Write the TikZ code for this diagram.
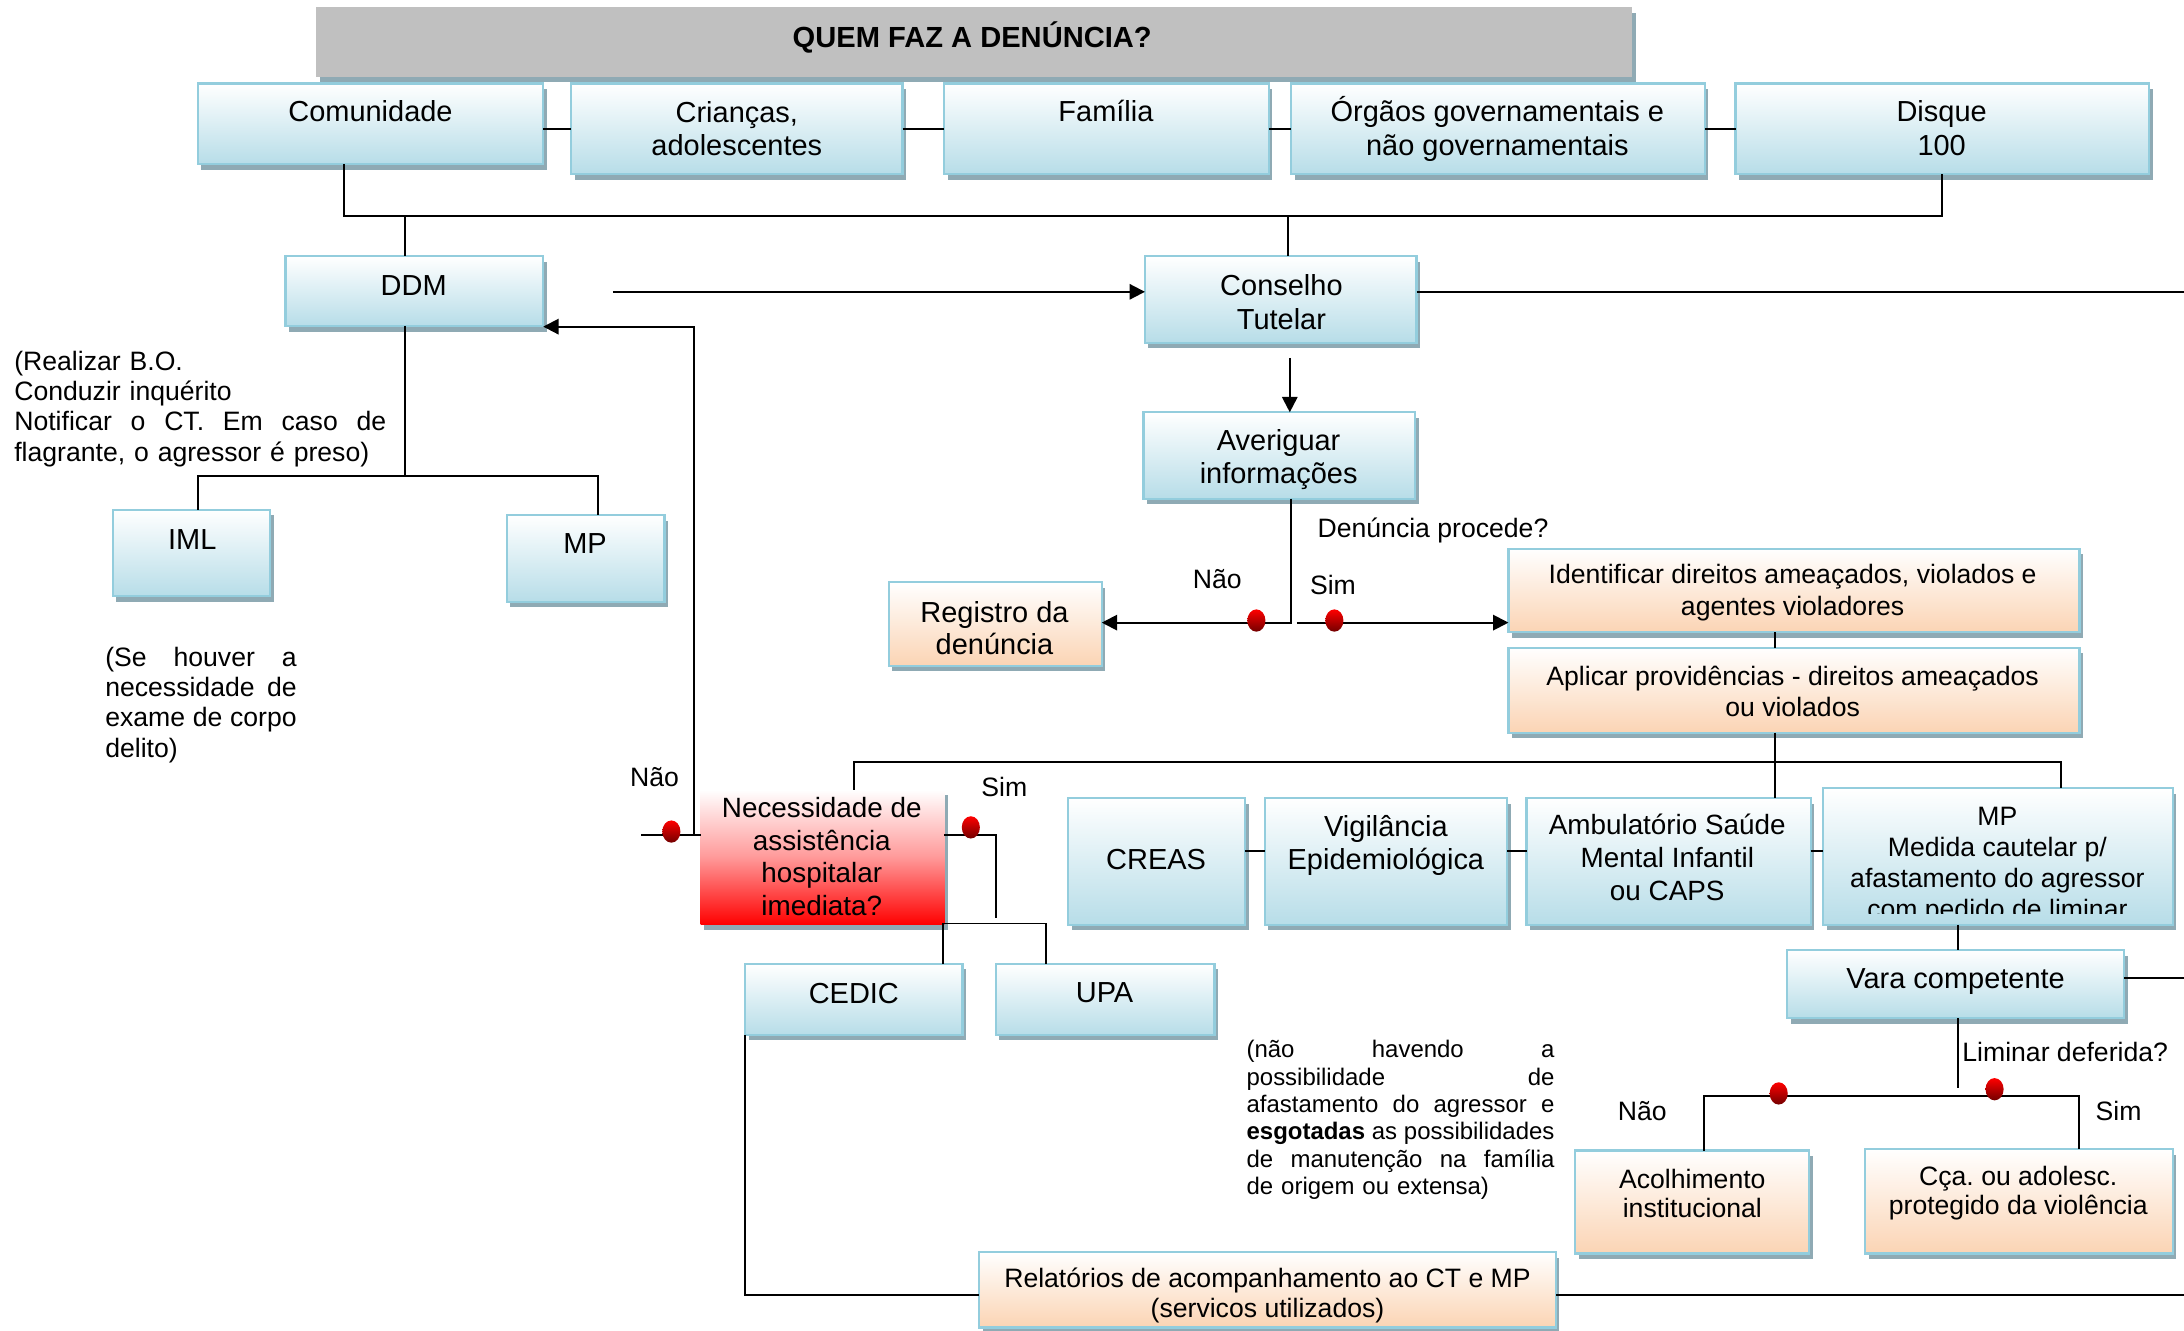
\documentclass[tikz,border=0pt]{standalone}
\usepackage{fontspec}
\setmainfont{Liberation Sans}
\frenchspacing
\usetikzlibrary{arrows.meta,shapes.geometric}
\definecolor{bordc}{HTML}{93CDDD}
\definecolor{blueb}{HTML}{B7DDE8}
\definecolor{peach}{HTML}{FBD4B4}
\definecolor{shadc}{HTML}{8FAAB4}
\definecolor{titlec}{HTML}{C0C0C0}
\tikzset{
  basebox/.style={inner sep=0pt, outer sep=0pt, line width=0.8pt, draw=bordc},
  bluebox/.style={basebox, top color=white, bottom color=blueb, middle color=blueb!50},
  peachbox/.style={basebox, top color=white, bottom color=peach, middle color=peach!50},
  redbox/.style={inner sep=0pt, outer sep=0pt, top color=white, bottom color=red, middle color=red!40},
  titlebox/.style={inner sep=0pt, outer sep=0pt, fill=titlec},
  conn/.style={line width=0.7pt, draw=black},
  arr/.style={conn, -{Triangle[length=5.5pt,width=5.5pt]}},
  reddot/.style={ellipse, inner sep=0pt, minimum width=6.5pt, minimum height=8pt, top color=red, bottom color=red!45!black},
  tTitle/.style={inner sep=0pt, font=\bfseries\fontsize{10.45}{12}\selectfont},
  tBig/.style={align=center, inner sep=0pt, font=\fontsize{10.4}{12}\selectfont},
  tMid/.style={align=center, inner sep=0pt, font=\fontsize{10}{11.7}\selectfont},
  tSm/.style={align=center, inner sep=0pt, font=\fontsize{9.55}{11.2}\selectfont},
  lbl/.style={inner sep=0pt, font=\fontsize{9.55}{11}\selectfont},
  note/.style={align=left, inner sep=0pt, font=\fontsize{9.55}{10.9}\selectfont},
  tiny/.style={align=left, inner sep=0pt, font=\fontsize{8.6}{9.8}\selectfont},
}
\newcommand\drawbox[6]{%
  \fill[shadc] ({#2+2.5},{#3+4}) rectangle ({#4+2.5},{#5+4});
  \node[#6, minimum width={(#4-#2)*0.5pt}, minimum height={(#5-#3)*0.5pt}] (#1) at ({(#2+#4)/2},{(#3+#5)/2}) {};
}
\newcommand\jline[2]{\makebox[#1][s]{\spaceskip=0pt\xspaceskip=0pt #2}}
\begin{document}
\begin{tikzpicture}[x=0.5pt,y=-0.5pt]
\useasboundingbox (0,0) rectangle (1568,955);
\fill[white] (0,0) rectangle (1568,955);

% ---------- boxes ----------
\drawbox{title}{227}{5}{1172}{55}{titlebox}
\drawbox{comu}{142}{60}{390}{118}{bluebox}
\drawbox{cria}{410}{60}{648}{125}{bluebox}
\drawbox{fam}{678}{60}{911}{125}{bluebox}
\drawbox{orgs}{927}{60}{1224}{125}{bluebox}
\drawbox{disq}{1246}{60}{1543}{125}{bluebox}
\drawbox{ddm}{205}{184}{390}{234}{bluebox}
\drawbox{cons}{822}{184}{1017}{246}{bluebox}
\drawbox{aver}{821}{296}{1016}{358}{bluebox}
\drawbox{iml}{81}{366}{194}{428}{bluebox}
\drawbox{mpa}{364}{370}{477}{432}{bluebox}
\drawbox{reg}{638}{418}{791}{478}{peachbox}
\drawbox{ident}{1083}{394}{1493}{454}{peachbox}
\drawbox{apl}{1083}{465}{1493}{526}{peachbox}
\drawbox{nec}{503}{567}{678}{664}{redbox}
\drawbox{creas}{767}{573}{894}{664}{bluebox}
\drawbox{vig}{908}{573}{1082}{664}{bluebox}
\drawbox{amb}{1096}{573}{1300}{664}{bluebox}
\drawbox{mpb}{1309}{566}{1560}{664}{bluebox}
\drawbox{cedic}{535}{692}{691}{743}{bluebox}
\drawbox{upa}{715}{692}{872}{743}{bluebox}
\drawbox{vara}{1283}{682}{1525}{731}{bluebox}
\drawbox{acol}{1131}{826}{1299}{900}{peachbox}
\drawbox{cca}{1339}{825}{1560}{900}{peachbox}
\drawbox{rel}{703}{899}{1117}{953}{peachbox}

% ---------- coordinates ----------
\coordinate (jA) at (247,155);
\coordinate (jB) at (1394,155);
\coordinate (jC) at (291,155);
\coordinate (jD) at (925,155);
\coordinate (ddmout) at (440,209.5);
\coordinate (consout) at (1568,209.5);
\coordinate (cdown) at (926,257);
\coordinate (dA) at (927,447);
\coordinate (dB) at (931,447);
\coordinate (vI) at (1274,547);
\coordinate (hL) at (613,547);
\coordinate (hR) at (1480,547);
\coordinate (rowy) at (0,611);
\coordinate (nA) at (460,599.5);
\coordinate (nB) at (498.5,599.5);
\coordinate (ddmin) at (0,234.5);
\coordinate (sA) at (715,599.5);
\coordinate (sB) at (715,659);
\coordinate (cA) at (677,663);
\coordinate (cB) at (751,663);
\coordinate (rA) at (535,929.5);
\coordinate (rB) at (1568,929.5);
\coordinate (mA) at (1406,0);
\coordinate (vo) at (1568,702);
\coordinate (lv) at (1406,781);
\coordinate (bA) at (1223.5,787);
\coordinate (bB) at (1492.5,787);
\coordinate (kA) at (291,342);
\coordinate (kB) at (142,342);
\coordinate (kC) at (429.5,342);

% ---------- connectors ----------
\draw[conn] (comu.east |- cria.west) -- (cria.west);
\draw[conn] (cria.east) -- (fam.west);
\draw[conn] (fam.east) -- (orgs.west);
\draw[conn] (orgs.east) -- (disq.west);
\draw[conn] (jA |- comu.south) -- (jA) -- (jB) -- (jB |- disq.south);
\draw[conn] (jC) -- (jC |- ddm.north);
\draw[conn] (jD) -- (jD |- cons.north);
\draw[arr] (ddmout) -- (ddmout -| cons.west);
\draw[conn] (consout -| cons.east) -- (consout);
\draw[arr] (cdown) -- (cdown |- aver.north);
\draw[arr] (dA |- aver.south) -- (dA) -- (dA -| reg.east);
\draw[arr] (dB) -- (dB -| ident.west);
\draw[conn] (vI |- ident.south) -- (vI |- apl.north);
\draw[conn] (vI |- apl.south) -- (vI |- amb.north);
\draw[conn] (hL |- nec.north) -- (hL) -- (hR) -- (hR |- mpb.north);
\draw[conn] (creas.east |- rowy) -- (vig.west |- rowy);
\draw[conn] (vig.east |- rowy) -- (amb.west |- rowy);
\draw[conn] (amb.east |- rowy) -- (mpb.west |- rowy);
\draw[conn] (nec.west |- nA) -- (nA);
\draw[arr] (nB) |- (ddm.east |- ddmin);
\draw[conn] (nec.east |- sA) -- (sA) -- (sB);
\draw[conn] (cA |- cedic.north) -- (cA) -- (cB) -- (cB |- upa.north);
\draw[conn] (rA |- cedic.south) -- (rA) -- (rA -| rel.west);
\draw[conn] (rel.east |- rB) -- (rB);
\draw[conn] (mA |- mpb.south) -- (mA |- vara.north);
\draw[conn] (vara.east |- vo) -- (vo);
\draw[conn] (lv |- vara.south) -- (lv);
\draw[conn] (bA |- acol.north) -- (bA) -- (bB) -- (bB |- cca.north);
\draw[conn] (kA |- ddm.south) -- (kA);
\draw[conn] (kB |- iml.north) -- (kB) -- (kC) -- (kC |- mpa.north);

% ---------- decision dots ----------
\node[reddot] (dot1) at (482,597) {};
\node[reddot] (dot2) at (697,594) {};
\node[reddot] (dot3) at (902,445.5) {};
\node[reddot] (dot4) at (958,445.5) {};
\node[reddot] (dot5) at (1277,785) {};
\node[reddot] (dot6) at (1432,782) {};

% ---------- box texts ----------
\node[tTitle] (t-title) at (698,27) {QUEM FAZ A DENÚNCIA?};
\node[tBig] (t-comu) at (266,80) {Comunidade};
\node[tBig] (t-cria) at (529,92.5) {Crianças,\\adolescentes};
\node[tBig] (t-fam) at (794,80) {Família};
\node[tBig] (t-orgs) at (1075,92.5) {Órgãos governamentais e\\não governamentais};
\node[tBig] (t-disq) at (1394,92) {Disque\\100};
\node[tBig] (t-ddm) at (297,205) {DDM};
\node[tBig] (t-cons) at (920,217) {Conselho\\Tutelar};
\node[tBig] (t-aver) at (918,330) {Averiguar\\informações};
\node[tBig] (t-iml) at (138,387) {IML};
\node[tBig] (t-mpa) at (420,390) {MP};
\node[tBig, font=\fontsize{10.4}{11.5}\selectfont] (t-reg) at (714,451) {Registro da\\denúncia};
\node[tSm] (t-ident) at (1287,425.5) {Identificar direitos ameaçados, violados e\\agentes violadores};
\node[tSm] (t-apl) at (1287,496.5) {Aplicar providências - direitos ameaçados\\ou violados};
\node[tMid] (t-nec) at (590,615) {Necessidade de\\assistência\\hospitalar\\imediata?};
\node[tBig] (t-creas) at (830,617) {CREAS};
\node[tBig] (t-vig) at (995,607) {Vigilância\\Epidemiológica};
\node[tMid] (t-amb) at (1197,615.5) {Ambulatório Saúde\\Mental Infantil\\ou CAPS};
\begin{scope}
\clip (1309,566) rectangle (1560,655.5);
\node[tSm] (t-mpb) at (1434,621.5) {MP\\Medida cautelar p/\\afastamento do agressor\\com pedido de liminar};
\end{scope}
\node[tBig] (t-cedic) at (613,713) {CEDIC};
\node[tBig] (t-upa) at (793,713) {UPA};
\node[tBig] (t-vara) at (1404,705) {Vara competente};
\node[tSm, font=\fontsize{9.55}{10.4}\selectfont] (t-acol) at (1215,856.5) {Acolhimento\\institucional};
\node[tSm, font=\fontsize{9.55}{10.4}\selectfont] (t-cca) at (1449,856.5) {Cça. ou adolesc.\\protegido da violência};
\node[tSm, font=\fontsize{9.55}{10.75}\selectfont] (t-rel) at (910,930) {Relatórios de acompanhamento ao CT e MP\\(servicos utilizados)};

% ---------- labels ----------
\node[lbl] (l1) at (470,558) {Não};
\node[lbl] (l2) at (721,565) {Sim};
\node[lbl] (l3) at (874,416) {Não};
\node[lbl] (l4) at (957,420) {Sim};
\node[lbl, anchor=west] (l5) at (945.6,380.5) {Denúncia procede?};
\node[lbl, anchor=west] (l6) at (1408.5,755) {Liminar deferida?};
\node[lbl] (l7) at (1179,797.5) {Não};
\node[lbl] (l8) at (1521,797.5) {Sim};

% ---------- notes ----------
\node[note, text width=133.5pt] (n1) at (143.8,293.5) {(Realizar B.O.\\Conduzir inquérito\\\jline{133.5pt}{Notificar o CT. Em caso de}\\flagrante, o agressor é preso)};
\node[note, text width=68.7pt] (n2) at (144.3,506) {\jline{68.7pt}{(Se houver a}\\\jline{68.7pt}{necessidade de}\\\jline{68.7pt}{exame de corpo}\\delito)};
\node[tiny, text width=110.5pt] (n3) at (1005.5,804) {\jline{110.5pt}{(não havendo a}\\\jline{110.5pt}{possibilidade de}\\\jline{110.5pt}{afastamento do agressor e}\\\jline{110.5pt}{\textbf{esgotadas} as possibilidades}\\\jline{110.5pt}{de manutenção na família}\\de origem ou extensa)};
\end{tikzpicture}
\end{document}
